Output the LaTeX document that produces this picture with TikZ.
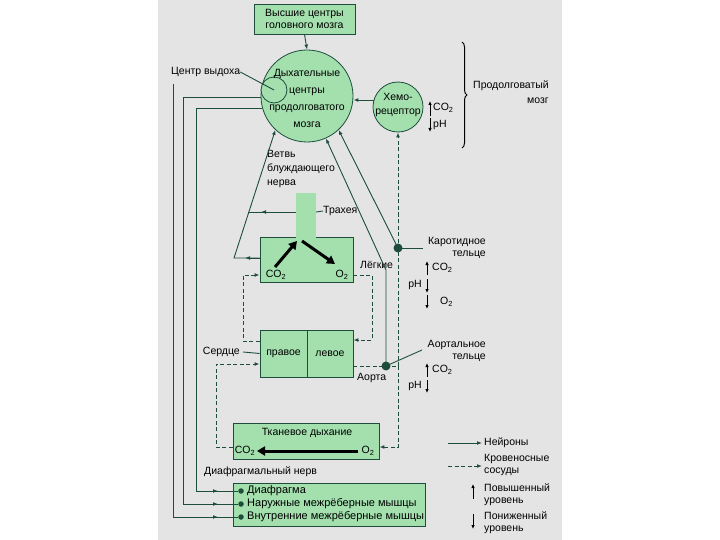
\documentclass[tikz,border=0pt]{standalone}
\usepackage{fontspec}
\setmainfont{Liberation Sans}
\usetikzlibrary{arrows.meta,decorations.pathreplacing}
\definecolor{lg}{HTML}{A3E0AE}
\definecolor{dg}{HTML}{1E4D3C}
\definecolor{bgc}{HTML}{E4E4E4}
\begin{document}
\begin{tikzpicture}[x=1pt,y=-1pt,
  every node/.style={font=\fontsize{10.5}{12.5}\selectfont, inner sep=0pt, text=black},
  box/.style={draw=dg, fill=lg, line width=0.8pt},
  nerve/.style={draw=dg, line width=0.9pt},
  blood/.style={draw=dg, line width=0.9pt, dash pattern=on 4pt off 2.5pt},
  tip/.style={-{Latex[length=5pt,width=3.8pt]}},
  bigarrow/.style={draw=black, line width=3pt, -{Triangle[length=8pt,width=9pt]}},
  bigdot/.style={circle, fill=dg, minimum size=9pt, inner sep=0pt},
  smalldot/.style={circle, fill=dg, minimum size=5.5pt, inner sep=0pt},
  musctext/.style={anchor=west, font=\fontsize{11}{13}\selectfont},
  lvl/.style={draw=black, line width=0.9pt, -{Latex[length=4pt,width=3.5pt]}}
]
\useasboundingbox (0,0) rectangle (720,540);
\fill[white] (0,0) rectangle (720,540);
\fill[bgc] (158,0) rectangle (562,540);

% ---- nodes ----
\node[box, minimum width=101pt, minimum height=30pt, align=center, font=\fontsize{10.5}{12}\selectfont] (higher) at (304.5,19) {Высшие центры\\головного мозга};
\node[circle, box, minimum size=92pt] (resp) at (307,96) {};
\node[circle, box, minimum size=26pt] (exp) at (274,90) {};
\node[align=center, font=\fontsize{10.5}{17}\selectfont] (respT) at (307,98) {Дыхательные\\центры\\продолговатого\\мозга};
\node[circle, box, minimum size=50pt] (chemo) at (398,107) {};
\node[align=center, font=\fontsize{10.5}{14}\selectfont] (chemoT) at (398,105) {Хемо-\\рецептор};
\node[anchor=west] (expL) at (171,72) {Центр выдоха};

\node[box, minimum width=93pt, minimum height=45pt] (lungs) at (306.5,259.5) {};
\node[fill=lg, minimum width=20pt, minimum height=45pt] (trach) at (306,215.5) {};
\node[box, minimum width=47pt, minimum height=47pt] (rheart) at (283.5,353.5) {правое};
\node[box, minimum width=46pt, minimum height=47pt] (lheart) at (330,353.5) {левое};
\node[box, minimum width=146pt, minimum height=36pt] (tissue) at (306,441) {};
\node[box, minimum width=192pt, minimum height=43pt] (musc) at (329,504.5) {};

% texts
\node[anchor=north west, align=left, font=\fontsize{10.5}{14}\selectfont] (vagT) at (267,150) {Ветвь\\блуждающего\\нерва};
\node[anchor=west] (trT) at (323,211) {Трахея};
\node[anchor=west] (luT) at (360,265) {Лёгкие};
\node (lCO) at (276,275) {CO\textsubscript{2}};
\node (lO) at (342,275) {O\textsubscript{2}};
\node[anchor=east] (heT) at (240,352) {Сердце};
\node[anchor=west] (aoT) at (357,378) {Аорта};
\node (tT) at (307,433) {Тканевое дыхание};
\node (tCO) at (245,451) {CO\textsubscript{2}};
\node (tO) at (368,451) {O\textsubscript{2}};
\node[anchor=west] (dnT) at (204,472) {Диафрагмальный нерв};
\node[anchor=east, align=right, font=\fontsize{10.5}{12}\selectfont] (carT) at (486,248) {Каротидное\\тельце};
\node[anchor=east, align=right, font=\fontsize{10.5}{12}\selectfont] (aorT) at (486,351) {Аортальное\\тельце};
\node[anchor=east, align=right, font=\fontsize{10.5}{15}\selectfont] (medT) at (549,92) {Продолговатый\\мозг};

% muscles
\node[smalldot] (m1) at (241,491) {};
\node[smalldot] (m2) at (241,504) {};
\node[smalldot] (m3) at (241,517) {};
\node[musctext] at (247,491) {Диафрагма};
\node[musctext] at (247,504) {Наружные межрёберные мышцы};
\node[musctext] at (247,517) {Внутренние межрёберные мышцы};

% ---- nerves ----
\draw[nerve, tip] (higher.south) -- (resp.north);
\draw[nerve, tip] (chemo.164) -- (resp.east |- chemo.164);
\draw[nerve] (expL.east) -- (exp.center);

\coordinate (car) at (398,248);
\coordinate (aor) at (386,366);
\coordinate (aorJ) at (398,366);

\draw[nerve, tip] (car) -- (resp.-47);
\draw[nerve, tip] (aor) -- (386,270) -- (resp.-66);
\draw[nerve] (car) -- (423,248);
\draw[nerve] (aor) -- (422,350);

\draw[nerve, tip] ([yshift=1.5pt]lungs.west) -- (234,258) -- (resp.-133);
\draw[nerve, tip] ([yshift=1.5pt]lungs.west) -- (245,258);
\draw[nerve] ([yshift=3.5pt]trach.west) -- (248,212);
\draw[nerve, tip] ([yshift=3.5pt]trach.west) -- (261,212);
\draw[nerve] ([yshift=3.5pt]trach.east) -- (trT.west);
\draw[nerve] (heT.east) ++(3,0) -- (rheart.west);

\draw[nerve] (resp.196) -| (196,491) -- (m1);
\draw[nerve] (resp.182) -| (183,504) -- (m2);
\draw[nerve] (173,84) -- (173,517) -- (m3);
\draw[nerve, tip] (196,491) -- (218,491);
\draw[nerve, tip] (183,504) -- (218,504);
\draw[nerve, tip] (173,517) -- (218,517);

% ---- blood ----
\draw[blood, tip] ([yshift=-6pt]tissue.west) -| (216,364) -- ([yshift=-10.5pt]rheart.west);
\draw[blood, tip] ([yshift=12.5pt]rheart.west) -| (243,275) -- ([yshift=-15.5pt]lungs.west);
\draw[blood, tip] ([yshift=-15.5pt]lungs.east) -| (372,340) -- ([yshift=13.5pt]lheart.east);
\draw[blood] ([yshift=-12.5pt]lheart.east) -- (aorJ);
\draw[blood, tip] (aorJ) -- (chemo.south);
\draw[blood, tip] (aorJ) |- ([yshift=-6pt]tissue.east);

\node[bigdot] at (car) {};
\node[bigdot] at (aor) {};

% big arrows
\draw[bigarrow] (275,267) -- (297,241);
\draw[bigarrow] (302,241) -- (335,264);
\draw[bigarrow] (358,451) -- (257,451);

% level arrows
\draw[lvl] (430,116) -- (430,101);
\node[anchor=west] at (433,108) {CO\textsubscript{2}};
\draw[lvl] (430,118) -- (430,132);
\node[anchor=west] at (433,125) {pH};

\draw[lvl] (427,275) -- (427,261);
\node[anchor=west] at (432,268) {CO\textsubscript{2}};
\draw[lvl] (427,279) -- (427,293);
\node[anchor=east] at (422,285) {pH};
\draw[lvl] (427,295) -- (427,309);
\node[anchor=west] at (440,302) {O\textsubscript{2}};

\draw[lvl] (427,377) -- (427,363);
\node[anchor=west] at (432,370) {CO\textsubscript{2}};
\draw[lvl] (427,380) -- (427,393);
\node[anchor=east] at (422,386) {pH};

% brace
\draw[black, line width=1pt, decorate, decoration={brace, amplitude=5pt}] (462,42) -- (462,148);

% legend
\draw[nerve, tip] (448,443) -- (482,443);
\node[anchor=west] at (484,443) {Нейроны};
\draw[blood, tip] (448,466) -- (482,466);
\node[anchor=west, align=left, font=\fontsize{10.5}{12}\selectfont] at (484,465) {Кровеносные\\сосуды};
\draw[lvl] (473,499) -- (473,484);
\node[anchor=west, align=left, font=\fontsize{10.5}{12}\selectfont] at (484,495) {Повышенный\\уровень};
\draw[lvl] (473,514) -- (473,529);
\node[anchor=west, align=left, font=\fontsize{10.5}{12}\selectfont] at (484,523) {Пониженный\\уровень};
\end{tikzpicture}
\end{document}
